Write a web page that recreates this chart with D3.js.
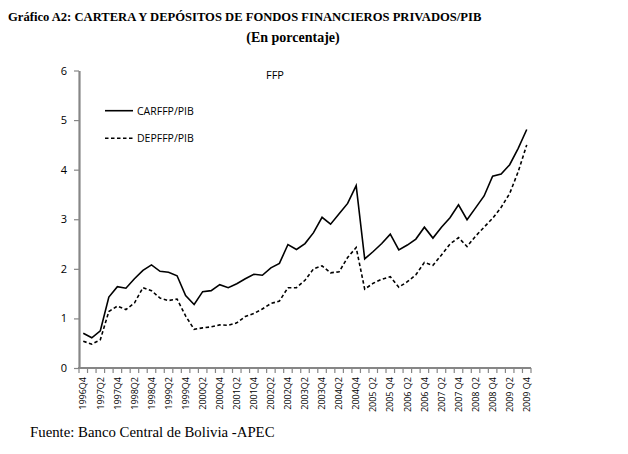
<!DOCTYPE html>
<html lang="en">
<head>
<meta charset="utf-8">
<title>FFP</title>
<script src="https://d3js.org/d3.v7.min.js"></script>
<style>
body { margin: 0; background: #fff; }
.title { font-family: "Liberation Serif", "Times New Roman", serif; font-weight: bold; }
.axis text { font-family: "Open Sans", "DejaVu Sans", sans-serif; fill: #000; }
.axis path, .axis line { stroke: #868686; }
</style>
</head>
<body>
<div id="container"></div>
<script>
// quarters 1996Q4 .. 2009Q4
var quarters = [
  "1996Q4",
  "1997Q1","1997Q2","1997Q3","1997Q4",
  "1998Q1","1998Q2","1998Q3","1998Q4",
  "1999Q1","1999Q2","1999Q3","1999Q4",
  "2000Q1","2000Q2","2000Q3","2000Q4",
  "2001Q1","2001Q2","2001Q3","2001Q4",
  "2002Q1","2002Q2","2002Q3","2002Q4",
  "2003Q1","2003Q2","2003Q3","2003Q4",
  "2004Q1","2004Q2","2004Q3","2004Q4",
  "2005 Q1","2005 Q2","2005 Q3","2005 Q4",
  "2006 Q1","2006 Q2","2006 Q3","2006 Q4",
  "2007 Q1","2007 Q2","2007 Q3","2007 Q4",
  "2008 Q1","2008 Q2","2008 Q3","2008 Q4",
  "2009 Q1","2009 Q2","2009 Q3","2009 Q4"
];

var carffp = [
  0.70,
  0.61, 0.75, 1.43, 1.64,
  1.61, 1.80, 1.97, 2.08,
  1.95, 1.93, 1.86, 1.46,
  1.28, 1.54, 1.56, 1.68,
  1.62, 1.70, 1.80, 1.89,
  1.87, 2.02, 2.11, 2.49,
  2.39, 2.51, 2.73, 3.04,
  2.90, 3.11, 3.32, 3.68,
  2.20, 2.35, 2.51, 2.70,
  2.38, 2.48, 2.60, 2.84,
  2.62, 2.84, 3.03, 3.29,
  2.99, 3.23, 3.47, 3.87,
  3.91, 4.10, 4.43, 4.81
];

var depffp = [
  0.54,
  0.48, 0.57, 1.14, 1.25,
  1.18, 1.31, 1.62, 1.56,
  1.41, 1.36, 1.39, 1.05,
  0.78, 0.81, 0.83, 0.87,
  0.86, 0.91, 1.04, 1.10,
  1.19, 1.30, 1.35, 1.62,
  1.62, 1.77, 2.00, 2.06,
  1.92, 1.94, 2.23, 2.43,
  1.59, 1.71, 1.79, 1.84,
  1.63, 1.74, 1.88, 2.13,
  2.07, 2.28, 2.50, 2.63,
  2.45, 2.66, 2.84, 3.02,
  3.24, 3.52, 3.96, 4.50
];

// labels shown on the axis (every second quarter)
var tickLabels = quarters.filter(function(q, i) { return i % 2 == 0; });
var yTicks = [0, 1, 2, 3, 4, 5, 6];

var w = 628, h = 454;
var svg = d3.select("div#container").append("svg")
  .attr("width", w).attr("height", h);

var x = d3.scaleBand().domain(quarters).range([79, 531]).padding(0);
var y = d3.scaleLinear().domain([0, 6]).range([368, 70.5]);
var cx = function(q) { return x(q) + x.bandwidth() / 2; };

// titles
svg.append("text").attr("class", "title")
  .attr("x", 8).attr("y", 21).attr("font-size", 12.6)
  .text("Gráfico A2: CARTERA Y DEPÓSITOS DE FONDOS FINANCIEROS PRIVADOS/PIB");
svg.append("text").attr("class", "title")
  .attr("x", 293).attr("y", 42).attr("text-anchor", "middle").attr("font-size", 14)
  .text("(En porcentaje)");

// y axis
var yAxis = svg.append("g").attr("class", "axis")
  .attr("transform", "translate(79,0)")
  .call(d3.axisLeft(y).tickValues(yTicks).tickFormat(d3.format("d"))
    .tickSize(5).tickPadding(7).tickSizeOuter(0));
yAxis.select(".domain").attr("stroke-width", 2.2);
yAxis.selectAll("line").attr("stroke-width", 1.2);
yAxis.selectAll("text").attr("font-size", 11);

// x axis: ticks between categories, labels at every second category
var xg = svg.append("g").attr("class", "axis");
xg.append("line").attr("x1", 78).attr("x2", 531).attr("y1", 368).attr("y2", 368)
  .attr("stroke-width", 2);
var bounds = quarters.map(function(q) { return x(q); }).concat([x.range()[1]]);
xg.selectAll("line.tk").data(bounds).enter().append("line").attr("class", "tk")
  .attr("x1", function(d) { return d; }).attr("x2", function(d) { return d; })
  .attr("y1", 368).attr("y2", 373).attr("stroke-width", 1.2);
xg.selectAll("text").data(tickLabels).enter().append("text")
  .attr("transform", function(d) { return "translate(" + (cx(d) + 3.2) + ",377) rotate(-90)"; })
  .attr("text-anchor", "end")
  .attr("font-size", 9)
  .text(function(d) { return d; });

// lines
var line = d3.line()
  .x(function(d, i) { return cx(quarters[i]); })
  .y(function(d) { return y(d); });

svg.append("path").datum(carffp)
  .attr("d", line).attr("fill", "none")
  .attr("stroke", "#000").attr("stroke-width", 1.6);
svg.append("path").datum(depffp)
  .attr("d", line).attr("fill", "none")
  .attr("stroke", "#000").attr("stroke-width", 1.6)
  .attr("stroke-dasharray", "3.5,2.5");

// chart label and legend
svg.append("text").attr("x", 275).attr("y", 79)
  .attr("font-family", "Open Sans, sans-serif").attr("font-size", 11)
  .attr("text-anchor", "middle").text("FFP");

var legend = [
  { name: "CARFFP/PIB", dash: null, y: 110.7 },
  { name: "DEPFFP/PIB", dash: "3.5,2.5", y: 138.3 }
];
legend.forEach(function(l) {
  svg.append("line").attr("x1", 105).attr("x2", 133).attr("y1", l.y).attr("y2", l.y)
    .attr("stroke", "#000").attr("stroke-width", 1.6)
    .attr("stroke-dasharray", l.dash);
  svg.append("text").attr("x", 137).attr("y", l.y + 4)
    .attr("font-family", "Open Sans, sans-serif").attr("font-size", 10.5)
    .text(l.name);
});

// source
svg.append("text").attr("x", 30).attr("y", 437)
  .attr("font-family", "Liberation Serif, Times New Roman, serif").attr("font-size", 14.8)
  .text("Fuente: Banco Central de Bolivia -APEC");
</script>
</body>
</html>
